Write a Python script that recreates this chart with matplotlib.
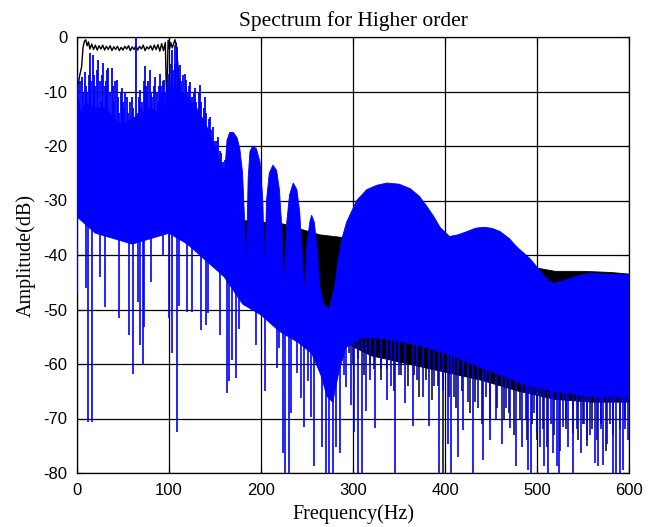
import numpy as np
import matplotlib
matplotlib.use("Agg")
import matplotlib.pyplot as plt

# ---- higher-order spectrum (blue): upper edge of the dense body ----
blue_top_f = [0, 4, 10, 20, 30, 40, 50, 60, 70, 80, 90, 100, 106, 112, 120, 130, 140, 150, 157,
              161, 163, 166, 170, 174, 177, 180, 182, 184, 186, 188, 191, 195, 199, 202, 204,
              206, 209, 213, 217, 220, 223, 225, 228, 231, 235, 239, 242, 245, 247, 250, 253,
              255, 258, 261, 264, 268, 274, 280, 284, 288, 293, 304, 315, 326, 337, 350, 362,
              372, 380, 388, 395, 405, 414, 424, 433, 442, 451, 460, 470, 478, 492, 503, 510,
              518, 527, 536, 547, 558, 575, 590, 600]
blue_top_db = [-10, -14, -12, -13, -13, -15, -16, -15, -14, -13, -14, -12, -9, -10, -11, -13, -16,
               -20, -24, -24, -19, -17.5, -17.5, -18.5, -20.5, -25, -33, -44, -26, -21, -20,
               -20.5, -23, -30, -44, -30, -25, -23.5, -24.5, -28, -36, -47, -34, -29, -26.8,
               -28, -32, -40, -48, -38, -34, -32.7, -34, -39, -46, -49, -50, -46, -41, -37,
               -34, -30, -28, -27.2, -26.8, -27, -27.8, -29.2, -31, -33, -35, -36.6, -36.3,
               -35.7, -35.1, -34.9, -35.1, -35.7, -37, -38.5, -40.6, -42.8, -44.3, -45.2,
               -44.8, -44.3, -43.7, -43.4, -43.5, -43.6, -43.6]

# lower edge of the dense blue body
blue_floor_f = [0, 20, 40, 60, 80, 100, 120, 140, 160, 180, 200, 220, 240, 255, 265, 272, 278,
                284, 292, 310, 340, 370, 400, 430, 460, 490, 520, 560, 600]
blue_floor_db = [-33, -36, -37, -38, -37, -36, -38, -41, -44, -49, -51, -54, -56, -58, -62, -66,
                 -67, -62, -57, -55, -55.5, -56.5, -58, -60, -62, -64, -65, -66, -66]

# narrow blue peaks rising above the body
blue_peak_f = [0, 1, 2, 3.5, 5, 6.5, 8.7, 10, 11, 12.5, 14, 15.5, 17.8, 19, 20, 21.5, 23, 24.5,
               26, 27.5, 28.6, 30, 31, 32.5, 34, 35.5, 37.7, 39, 40, 41.5, 43, 44.5, 46, 47.5,
               48.6, 50, 51, 52.5, 54, 55.5, 57, 58, 59.4, 61, 62, 64, 66, 67, 68.5, 70, 71,
               72.5, 74, 75, 76, 77.5, 79, 80.5, 82, 83.5, 85, 86.5, 88, 89, 90, 91, 92, 93.5,
               94.6, 96, 97, 98, 99, 100, 101, 102, 103, 104.5, 106, 107, 108.3, 110, 112, 113,
               114, 115.5, 117, 118, 119, 120, 121, 122, 123, 124.5, 126, 127, 128, 129.5, 131,
               132.5, 133.7, 135, 136, 137.5, 139, 140.5, 142, 143.5, 144.6, 146, 147, 148,
               149.5, 151, 152.5, 153.6, 155, 156, 157, 159, 161]
blue_peak_db = [-6.7, -9, -12, -8, -7.3, -10, -6.4, -9, -10, -7, -3.0, -8, -3.3, -7, -9, -6,
                -4.2, -8, -12, -7, -4.8, -9, -8, -6, -5.7, -10, -5.7, -9, -12, -8, -7.9, -11,
                -14, -10, -9.4, -12, -13, -10, -11, -14, -16, -12, -11, -13, -15, 0, -14, -11,
                -9.7, -13, -12, -8, -5.4, -9, -10, -8, -6, -10, -11, -9, -7.3, -10, -12, -9,
                -6.7, -9, -10, -8, -7.9, -10, -12, -9, -6.7, -8, -9, -5, -2.4, -6, -1.5, -5,
                -1.8, -6, -5.1, -8, -10, -7, -6.7, -9, -7.9, -10, -12, -9, -8.2, -11, -13, -10,
                -9.4, -12, -14, -10, -8.8, -12, -15, -13, -11, -14, -17, -15, -14.6, -17, -19,
                -16.5, -19, -21, -19, -18.3, -21, -23, -21.3, -23, -22.6]

# narrow blue dips falling below the body
blue_dip_f = [0, 9.8, 12.3, 16, 25, 30.4, 46, 56.9, 61.2, 66.7, 68.5, 71.4, 72.8, 80, 94, 100,
              103, 108.3, 111, 120, 124.6, 134.6, 140.5, 142.8, 155.4, 162.7, 165.6, 168.8,
              172.5, 176.4, 194.6, 204, 217, 220, 224, 226.5, 230, 233, 238.8, 243, 246.5,
              251.4, 254, 257.6, 266, 271, 273.5, 278.6, 281.5, 285.9, 290, 292, 297.8, 301,
              305, 309.4, 314, 318, 324, 330, 336.6, 341, 345.7, 350, 356.5, 365.6, 370, 376,
              382.6, 388, 393.8, 398, 403.6, 406, 410, 414.5, 420, 425, 430.8, 436, 441, 445,
              449, 455, 461.6, 466, 470.7, 477, 483.3, 488, 490.6, 494, 497, 500.4, 503, 508,
              512, 515, 517.8, 521.4, 524, 528.6, 531, 534, 538.8, 543, 547.5, 551, 554, 558,
              563, 566.7, 570, 572, 575.8, 579, 582.3, 585.9, 590, 593.8, 596, 599]
blue_dip_db = [-47, -46, -70.6, -70.6, -44, -49.5, -51.6, -54.7, -61.8, -48.6, -56.5, -60.2,
               -53.2, -44.9, -40, -51.6, -57.9, -72.4, -49.4, -50.4, -50.4, -53.7, -52.8, -50.7,
               -54.7, -65.4, -63.2, -59.3, -62.6, -53.5, -56.5, -65, -60.8, -57.1, -76.4, -80,
               -80, -69, -61.7, -66.3, -71.5, -63.2, -69.7, -78.8, -75.2, -80, -80, -80, -75.2,
               -76.4, -62, -64.2, -67.5, -72.4, -80, -80, -68.7, -63, -71.8, -61, -66.6, -64,
               -80, -62, -67.2, -71.4, -63, -66, -71.4, -64, -80, -65, -74.6, -80, -66, -77,
               -72.1, -67, -80, -68, -77.6, -66, -74, -70, -74.6, -68, -71.8, -78.8, -75.2, -70,
               -79.5, -80, -69, -72.7, -75.2, -78.8, -80, -71, -76.4, -78.8, -80, -71.5, -70,
               -75.2, -80, -72, -76.4, -71, -74, -73, -78.2, -78.8, -72, -78.5, -74.6, -71, -80,
               -80, -80, -79.5, -72, -74]

# ---- reference spectrum (black): passband trace ----
black_pass_f = [0, 3, 5, 6.5, 8, 9.5, 11, 12.5, 14, 16, 18, 20, 22, 24, 26, 28, 30, 32, 34, 36,
                38, 40, 42, 44, 46, 48, 50, 52, 54, 56, 58, 60, 62, 64, 66, 68, 70, 72, 74, 76,
                78, 80, 82, 84, 86, 88, 90, 92, 94, 96, 97.5, 99, 100.5, 102, 103.5, 105, 106.5,
                108, 110, 112, 115]
black_pass_db = [-10, -7, -5.5, -2, -0.8, -0.5, -1.6, -0.9, -2.2, -1.3, -2.3, -1.5, -2.4, -1.6,
                 -2.2, -1.5, -2.4, -1.7, -2.3, -1.6, -2.5, -1.8, -2.3, -1.7, -2.5, -1.9, -2.4,
                 -1.7, -2.2, -1.6, -2.5, -1.8, -2.3, -1.6, -2.4, -1.7, -2.2, -1.5, -2.5, -1.8,
                 -2.2, -1.6, -2.4, -1.5, -2.3, -1.4, -2.6, -1.2, -2.5, -1.0, -13, -0.6, -2.2,
                 -1.0, -2.0, -1.2, -0.5, -1.8, -6, -11, -16]

# stopband body of the black trace
black_top_f = [108, 110, 113, 118, 125, 135, 150, 170, 200, 224, 246, 264, 284, 320, 360, 400,
               450, 500, 520, 550, 580, 600]
black_top_db = [-1, -6, -14, -20, -25, -29, -32, -33.5, -34, -34.3, -35.4, -36.3, -36.7, -37.5,
                -38.5, -40, -41.5, -42.4, -43, -43, -43.2, -43.5]
black_bot_f = [110, 120, 140, 170, 200, 230, 260, 290, 320, 360, 400, 440, 480, 520, 560, 600]
black_bot_db = [-20, -30, -40, -45, -48, -49, -51, -56, -58.5, -60, -61.5, -63, -65, -66.5, -67,
                -67]

# black dips below its body
black_dip_f = [296, 300, 305, 312, 318, 323, 330, 337, 345, 352, 360, 366, 372, 379, 385.5, 392,
               398, 404, 412, 419, 427, 433, 440, 449, 456, 464, 470, 475, 482, 488.8, 495, 500,
               506, 510.5, 518, 525, 532, 539.5, 545, 550, 554, 560, 565, 570, 575, 583, 590,
               596]
black_dip_db = [-58, -60, -59, -62, -60, -61, -63, -61, -65, -62, -64, -62, -66, -63, -66.6,
                -64, -80, -66, -68, -65, -69, -67, -71, -70, -68, -70, -69, -73, -70, -74, -71,
                -74, -72, -75.2, -73, -76, -72, -72.7, -74, -71, -75, -72, -74, -71, -76, -73,
                -72, -70]

plt.rcParams['font.family'] = ['Liberation Sans', 'DejaVu Sans']
plt.rcParams['axes.unicode_minus'] = False

fig = plt.figure(figsize=(6.52, 5.27), dpi=100)
ax = fig.add_axes([77 / 652, 1 - 473 / 527, 552 / 652, 436 / 527])

blue = (0, 0, 1)
black = (0, 0, 0)

# black trace
ax.fill(np.r_[black_top_f, black_bot_f[::-1]], np.r_[black_top_db, black_bot_db[::-1]],
        color=black, lw=0.6, zorder=2)
ax.plot(black_pass_f, black_pass_db, color=black, lw=1.0, zorder=2)
bd_base = np.interp(black_dip_f, black_bot_f, black_bot_db) + 3
ax.vlines(black_dip_f, black_dip_db, bd_base, color=black, lw=1.1, zorder=2)

# blue trace
ax.fill(np.r_[blue_top_f, blue_floor_f[::-1]], np.r_[blue_top_db, blue_floor_db[::-1]],
        color=blue, lw=0.6, zorder=3)
pk_base = np.interp(blue_peak_f, blue_floor_f, blue_floor_db) + 4
ax.vlines(blue_peak_f, pk_base, blue_peak_db, color=blue, lw=1.3, zorder=3)
dp_base = np.interp(blue_dip_f, blue_floor_f, blue_floor_db) + 3
ax.vlines(blue_dip_f, blue_dip_db, dp_base, color=blue, lw=1.2, zorder=3)

ax.set_xlim(0, 600)
ax.set_ylim(-80, 0)
ax.set_xticks(np.arange(0, 601, 100))
ax.set_yticks(np.arange(-80, 1, 10))
ax.grid(True, color='black', lw=0.9)
ax.set_axisbelow(True)
ax.tick_params(direction='in', length=5, width=0.8, labelsize=12, pad=7,
               top=True, right=True)
for s in ax.spines.values():
    s.set_linewidth(0.9)

serif = ['Liberation Serif', 'DejaVu Serif']
ax.set_title('Spectrum for Higher order', family=serif, fontsize=15.5, pad=8)
ax.set_xlabel('Frequency(Hz)', family=serif, fontsize=14.5, labelpad=5)
ax.set_ylabel('Amplitude(dB)', family=serif, fontsize=14.5, labelpad=5)

fig.savefig('out.png', dpi=100)
